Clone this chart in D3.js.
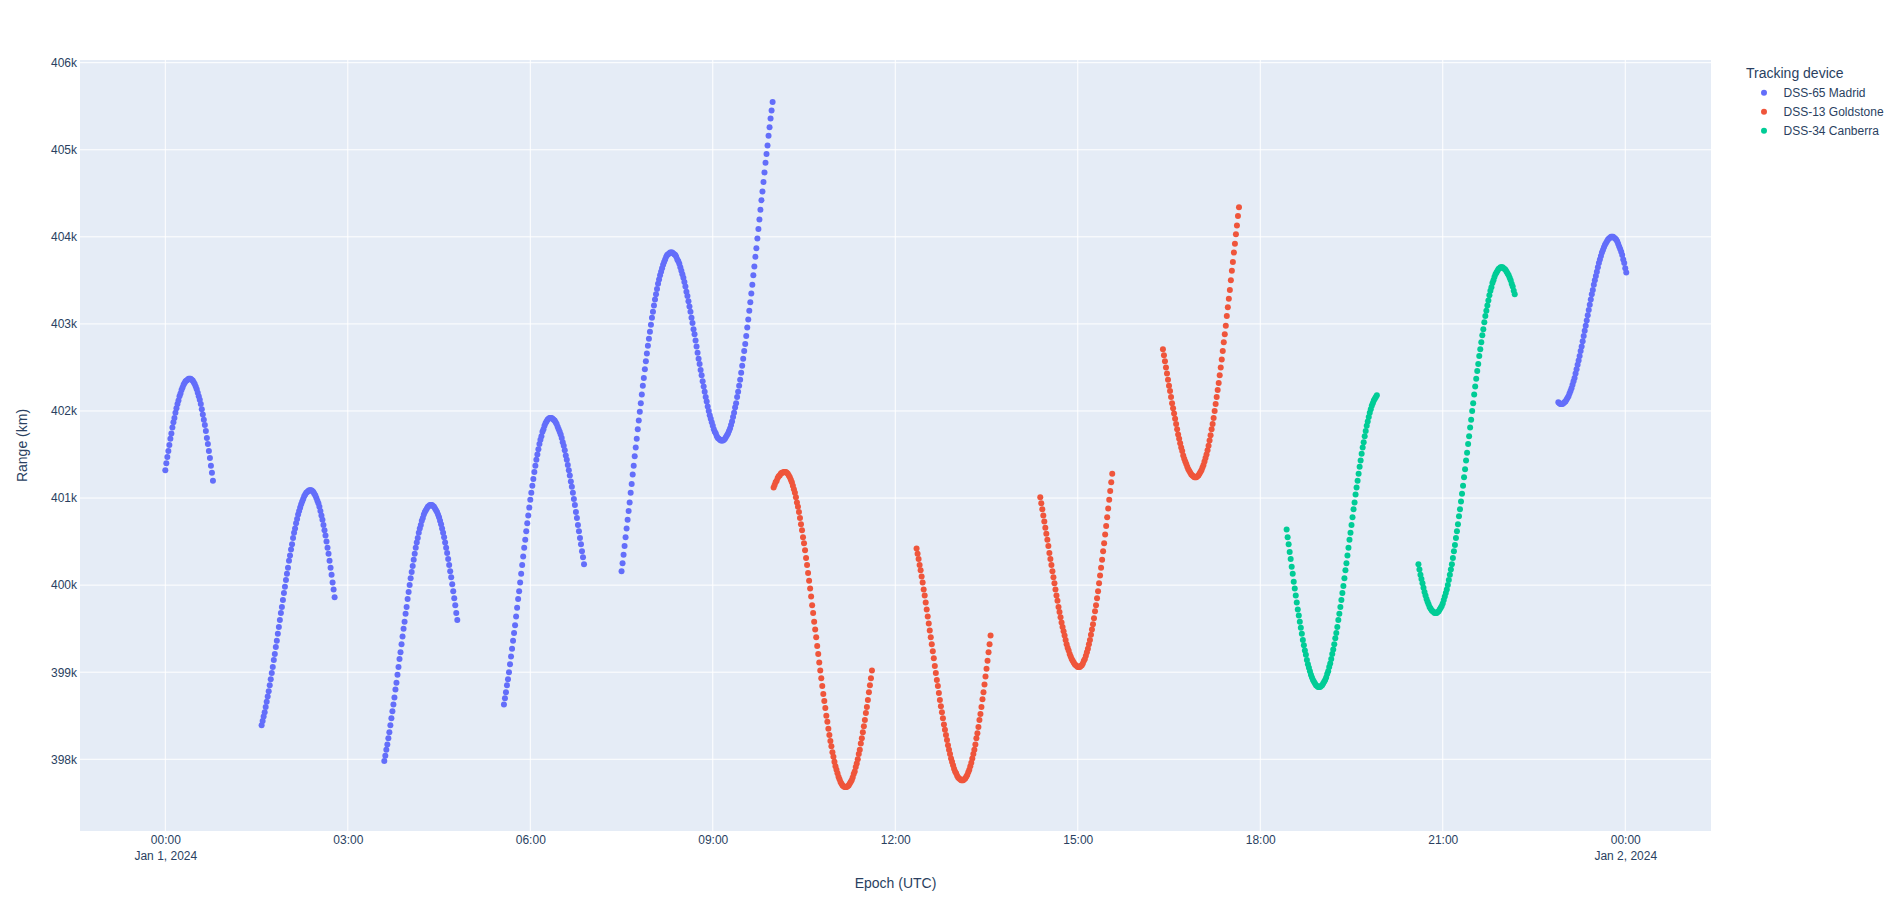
<!DOCTYPE html>
<html><head><meta charset="utf-8">
<script src="https://cdn.jsdelivr.net/npm/d3@7"></script>
<style>
body{margin:0;background:#fff}
svg{display:block}
text{font-family:"Liberation Sans",Arial,sans-serif;fill:#2a3f5f}
</style>
</head><body>
<svg id="chart" width="1904" height="911"></svg>
<script>
// ---- data (range in thousands of km, one sample per minute) ----
const stations = ["DSS-65 Madrid", "DSS-13 Goldstone", "DSS-34 Canberra"];
const stationColors = ["#636efa", "#EF553B", "#00cc96"];
const epochStart = "2024-01-01T00:00:00Z";
const passStation = [0, 0, 0, 0, 0, 1, 1, 1, 1, 2, 2, 0];
const passStartMin = [0, 95, 216, 334, 450, 600, 741, 863, 984, 1106, 1236, 1374];

const pass01 = [401.32,401.40,401.47,401.54,401.61,401.68,401.74,401.81,401.87,401.92,401.98,402.03,402.08,402.12,402.17,402.20,402.24,402.27,402.30,402.32,402.34,402.35,402.36,402.37,402.37,402.37,402.36,402.35,402.33,402.31,402.28,402.25,402.21,402.17,402.13,402.08,402.02,401.96,401.90,401.84,401.77,401.69,401.62,401.54,401.46,401.37,401.29,401.20];
const pass02 = [398.39,398.44,398.49,398.54,398.60,398.66,398.72,398.78,398.85,398.92,398.99,399.06,399.14,399.21,399.29,399.36,399.44,399.52,399.60,399.68,399.75,399.83,399.91,399.98,400.06,400.13,400.20,400.28,400.34,400.41,400.47,400.54,400.60,400.65,400.71,400.76,400.81,400.85,400.89,400.93,400.96,400.99,401.02,401.04,401.06,401.07,401.08,401.09,401.09,
  401.09,401.08,401.07,401.05,401.03,401.00,400.97,400.94,400.90,400.85,400.80,400.75,400.69,400.63,400.57,400.50,400.43,400.36,400.28,400.20,400.12,400.03,399.95,399.86];
const pass03 = [397.98,398.04,398.11,398.17,398.24,398.31,398.39,398.47,398.55,398.63,398.71,398.80,398.88,398.97,399.06,399.15,399.23,399.32,399.41,399.50,399.58,399.67,399.75,399.84,399.92,400.00,400.08,400.15,400.22,400.29,400.36,400.43,400.49,400.54,400.60,400.65,400.69,400.74,400.77,400.81,400.84,400.86,400.88,400.90,400.91,400.92,400.92,
  400.92,400.91,400.90,400.88,400.86,400.84,400.81,400.78,400.74,400.70,400.65,400.60,400.55,400.49,400.43,400.37,400.30,400.23,400.16,400.09,400.01,399.93,399.85,399.77,399.68,399.60];
const pass04 = [398.63,398.70,398.77,398.85,398.92,399.00,399.09,399.18,399.27,399.36,399.45,399.54,399.64,399.74,399.84,399.93,400.03,400.13,400.23,400.33,400.43,400.52,400.62,400.71,400.80,400.89,400.98,401.06,401.14,401.22,401.30,401.37,401.44,401.50,401.56,401.62,401.67,401.71,401.76,401.79,401.83,401.86,401.88,401.90,401.91,401.92,401.92,
  401.92,401.91,401.90,401.89,401.87,401.85,401.82,401.79,401.76,401.73,401.69,401.64,401.60,401.55,401.49,401.44,401.38,401.32,401.26,401.19,401.13,401.06,400.99,400.92,400.84,400.77,400.69,400.62,400.54,400.47,400.39,400.32,400.24];
const pass05 = [400.16,400.25,400.35,400.45,400.55,400.65,400.75,400.85,400.95,401.06,401.16,401.27,401.37,401.48,401.58,401.68,401.79,401.89,401.99,402.09,402.19,402.29,402.38,402.48,402.57,402.66,402.75,402.83,402.91,402.99,403.07,403.14,403.21,403.28,403.34,403.40,403.46,403.51,403.56,403.60,403.64,403.68,403.71,403.74,403.77,403.79,403.80,403.81,403.82,403.82,
  403.82,403.81,403.80,403.79,403.77,403.74,403.72,403.69,403.65,403.61,403.57,403.53,403.48,403.43,403.37,403.32,403.26,403.20,403.14,403.07,403.01,402.94,402.88,402.81,402.74,402.67,402.60,402.54,402.47,402.41,402.34,402.28,402.22,402.16,402.11,402.05,402.00,401.95,401.91,401.87,401.83,401.79,401.76,401.74,401.71,401.69,401.68,401.67,401.66,401.66,
  401.66,401.67,401.68,401.70,401.72,401.74,401.77,401.80,401.84,401.88,401.93,401.98,402.04,402.09,402.16,402.22,402.29,402.36,402.44,402.52,402.60,402.69,402.77,402.86,402.96,403.05,403.15,403.25,403.35,403.45,403.56,403.66,403.77,403.87,403.98,404.09,404.20,404.31,404.42,404.52,404.63,404.74,404.85,404.95,405.05,405.16,405.26,405.36,405.45,405.55];
const pass06 = [401.12,401.15,401.18,401.20,401.23,401.25,401.26,401.28,401.29,401.29,401.30,401.30,
  401.30,401.29,401.28,401.26,401.24,401.21,401.18,401.14,401.10,401.06,401.01,400.95,400.90,400.84,400.77,400.70,400.63,400.55,400.48,400.40,400.31,400.23,400.14,400.05,399.96,399.87,399.77,399.68,399.58,399.49,399.40,399.30,399.21,399.11,399.02,398.93,398.84,398.75,398.67,398.59,398.50,398.43,398.35,398.28,398.21,398.15,398.08,398.03,397.97,397.92,397.88,397.84,397.80,397.77,397.74,397.72,397.70,397.69,397.68,397.68,
  397.68,397.69,397.70,397.72,397.74,397.76,397.79,397.83,397.86,397.91,397.95,398.00,398.06,398.11,398.18,398.24,398.31,398.38,398.45,398.53,398.60,398.68,398.77,398.85,398.93,399.02];
const pass07 = [400.42,400.36,400.30,400.23,400.17,400.10,400.03,399.95,399.88,399.80,399.72,399.64,399.56,399.48,399.40,399.32,399.24,399.16,399.07,398.99,398.91,398.84,398.76,398.68,398.61,398.54,398.47,398.40,398.34,398.28,398.22,398.16,398.11,398.06,398.01,397.97,397.93,397.89,397.86,397.84,397.81,397.79,397.78,397.77,397.76,397.76,
  397.76,397.77,397.78,397.80,397.82,397.85,397.88,397.92,397.96,398.01,398.06,398.11,398.17,398.24,398.30,398.37,398.45,398.52,398.60,398.69,398.77,398.86,398.95,399.04,399.13,399.23,399.32,399.42];
const pass08 = [401.01,400.94,400.87,400.80,400.73,400.66,400.59,400.52,400.45,400.37,400.30,400.23,400.16,400.09,400.02,399.95,399.88,399.82,399.75,399.69,399.63,399.57,399.52,399.47,399.42,399.37,399.32,399.28,399.25,399.21,399.18,399.15,399.13,399.11,399.09,399.08,399.07,399.06,399.06,
  399.06,399.07,399.08,399.10,399.13,399.15,399.19,399.23,399.27,399.32,399.37,399.43,399.49,399.55,399.62,399.70,399.77,399.85,399.93,400.02,400.11,400.20,400.29,400.39,400.48,400.58,400.68,400.78,400.88,400.98,401.08,401.18,401.28];
const pass09 = [402.71,402.64,402.57,402.50,402.43,402.36,402.29,402.23,402.16,402.09,402.03,401.97,401.91,401.85,401.79,401.73,401.68,401.63,401.58,401.54,401.49,401.45,401.42,401.39,401.36,401.33,401.31,401.29,401.27,401.26,401.25,401.24,401.24,
  401.24,401.25,401.26,401.28,401.30,401.32,401.35,401.38,401.42,401.46,401.50,401.55,401.60,401.66,401.72,401.79,401.85,401.92,402.00,402.08,402.16,402.24,402.32,402.41,402.50,402.59,402.69,402.79,402.88,402.98,403.09,403.19,403.29,403.39,403.50,403.61,403.71,403.82,403.92,404.03,404.13,404.24,404.34];
const pass10 = [400.64,400.55,400.47,400.38,400.30,400.21,400.13,400.04,399.96,399.88,399.80,399.72,399.65,399.58,399.51,399.44,399.37,399.31,399.25,399.20,399.14,399.09,399.05,399.01,398.97,398.94,398.91,398.89,398.87,398.85,398.84,398.83,398.83,
  398.83,398.84,398.85,398.87,398.89,398.91,398.94,398.98,399.01,399.06,399.10,399.15,399.21,399.26,399.32,399.39,399.45,399.52,399.60,399.67,399.75,399.83,399.91,399.99,400.08,400.17,400.25,400.34,400.43,400.52,400.60,400.69,400.78,400.87,400.95,401.04,401.12,401.20,401.28,401.36,401.43,401.51,401.58,401.64,401.71,401.77,401.83,401.88,401.93,401.98,402.02,402.06,402.09,402.12,402.14,402.16,402.18];
const pass11 = [400.24,400.18,400.12,400.07,400.02,399.97,399.92,399.88,399.84,399.81,399.78,399.75,399.73,399.71,399.70,399.69,399.68,399.68,
  399.68,399.69,399.70,399.72,399.74,399.76,399.79,399.83,399.87,399.91,399.95,400.00,400.06,400.12,400.18,400.24,400.31,400.39,400.46,400.54,400.62,400.70,400.79,400.87,400.96,401.05,401.14,401.24,401.33,401.43,401.52,401.62,401.71,401.81,401.90,402.00,402.09,402.19,402.28,402.37,402.46,402.54,402.63,402.71,402.79,402.87,402.94,403.02,403.09,403.15,403.21,403.27,403.33,403.38,403.42,403.47,403.50,403.54,403.57,403.59,403.61,403.63,403.64,403.65,403.65,
  403.65,403.64,403.63,403.62,403.60,403.58,403.56,403.53,403.50,403.46,403.43,403.38,403.34];
const pass12 = [402.10,402.09,402.08,402.08,
  402.08,402.09,402.10,402.11,402.13,402.15,402.17,402.20,402.23,402.26,402.30,402.34,402.38,402.43,402.48,402.53,402.58,402.63,402.69,402.74,402.80,402.86,402.92,402.98,403.04,403.10,403.16,403.22,403.28,403.34,403.39,403.45,403.50,403.55,403.60,403.65,403.70,403.74,403.78,403.82,403.85,403.88,403.91,403.93,403.95,403.97,403.98,403.99,404.00,404.00,
  404.00,403.99,403.98,403.97,403.95,403.92,403.89,403.86,403.83,403.79,403.74,403.70,403.64,403.59];

const passValues = [pass01, pass02, pass03, pass04, pass05, pass06, pass07, pass08, pass09, pass10, pass11, pass12];

const xTickHours = [0, 3, 6, 9, 12, 15, 18, 21, 24];
const yTickValues = [398, 399, 400, 401, 402, 403, 404, 405, 406];
const xDomainHours = [-1.4023, 25.4096];
const yDomain = [397.176, 406.031];

// ---- layout ----
const W = 1904, H = 911;
const plot = {left: 80, right: 1711, top: 60, bottom: 831};
const svg = d3.select("#chart");
svg.append("rect").attr("width", W).attr("height", H).attr("fill", "#fff");

const t0 = new Date(epochStart).getTime();
const HOUR = 3600e3, MIN = 60e3;
const x = d3.scaleUtc()
  .domain(xDomainHours.map(h => new Date(t0 + h * HOUR)))
  .range([plot.left, plot.right]);
const y = d3.scaleLinear().domain(yDomain).range([plot.bottom, plot.top]);

svg.append("rect")
  .attr("x", plot.left).attr("y", plot.top)
  .attr("width", plot.right - plot.left).attr("height", plot.bottom - plot.top)
  .attr("fill", "#E5ECF6");

const xTicks = xTickHours.map(h => new Date(t0 + h * HOUR));

// grid
const grid = svg.append("g");
grid.selectAll("line.gy").data(yTickValues).join("line")
  .attr("x1", plot.left).attr("x2", plot.right)
  .attr("y1", d => y(d)).attr("y2", d => y(d))
  .attr("stroke", "#fff").attr("stroke-width", 1);
grid.selectAll("line.gx").data(xTicks).join("line")
  .attr("x1", d => x(d)).attr("x2", d => x(d))
  .attr("y1", plot.top).attr("y2", plot.bottom)
  .attr("stroke", "#fff").attr("stroke-width", 1);

// y axis
const yAxis = d3.axisLeft(y).tickValues(yTickValues).tickSize(0).tickPadding(2)
  .tickFormat(d => d + "k");
const gy = svg.append("g").attr("transform", `translate(${plot.left - 1},0)`).call(yAxis);
gy.select(".domain").remove();
gy.selectAll("text").attr("font-size", 12).attr("fill", "#2a3f5f")
  .attr("font-family", '"Liberation Sans", Arial, sans-serif');

// x axis
const fmtTime = d3.utcFormat("%H:%M");
const fmtDate = d3.utcFormat("%b %-d, %Y");
const xAxis = d3.axisBottom(x).tickValues(xTicks).tickSize(0).tickPadding(0).tickFormat("");
const gx = svg.append("g").attr("transform", `translate(0,${plot.bottom})`).call(xAxis);
gx.select(".domain").remove();
gx.selectAll(".tick").each(function(d) {
  const t = d3.select(this).select("text").text(null)
    .attr("font-size", 12).attr("fill", "#2a3f5f").attr("y", 0).attr("dy", null)
    .attr("font-family", '"Liberation Sans", Arial, sans-serif');
  t.append("tspan").attr("x", 0).attr("y", 13).text(fmtTime(d));
  if (d.getUTCHours() === 0 && d.getUTCMinutes() === 0) {
    t.append("tspan").attr("x", 0).attr("y", 29).text(fmtDate(d));
  }
});

// axis titles
svg.append("text").attr("x", (plot.left + plot.right) / 2).attr("y", 888)
  .attr("text-anchor", "middle").attr("font-size", 14).text("Epoch (UTC)");
svg.append("text")
  .attr("transform", `translate(22,${(plot.top + plot.bottom) / 2}) rotate(-90)`)
  .attr("text-anchor", "middle").attr("dy", "0.35em").attr("font-size", 14).text("Range (km)");

// points, grouped per station trace
const points = stations.map((s, si) => {
  const pts = [];
  passValues.forEach((vals, pi) => {
    if (passStation[pi] !== si) return;
    vals.forEach((v, i) => pts.push({t: new Date(t0 + (passStartMin[pi] + i) * MIN), v}));
  });
  return pts;
});

const marks = svg.append("g");
points.forEach((pts, si) => {
  marks.append("g").selectAll("circle").data(pts).join("circle")
    .attr("cx", d => x(d.t)).attr("cy", d => y(d.v)).attr("r", 3)
    .attr("fill", stationColors[si]);
});

// legend
const lg = svg.append("g");
lg.append("text").attr("x", 1746).attr("y", 77.5).attr("font-size", 14).text("Tracking device");
stations.forEach((s, i) => {
  const cy = 92.7 + i * 19;
  lg.append("circle").attr("cx", 1764).attr("cy", cy).attr("r", 3).attr("fill", stationColors[i]);
  lg.append("text").attr("x", 1783.5).attr("y", cy).attr("dy", "0.35em").attr("font-size", 12).text(s);
});
</script>
</body></html>
